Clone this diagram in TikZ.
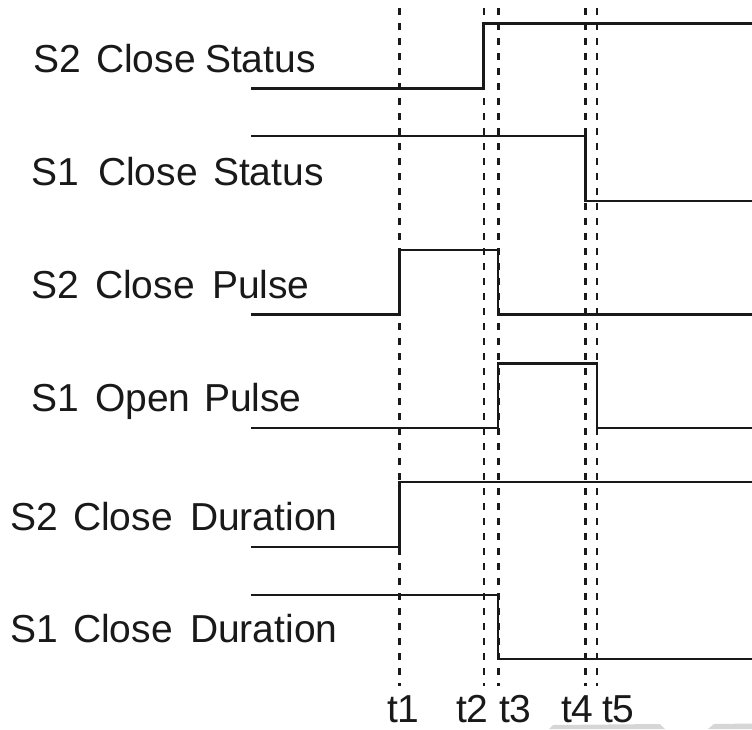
\documentclass[tikz,border=0pt]{standalone}
\usepackage{fontspec}
\setmainfont{Liberation Sans}
\begin{document}
\begin{tikzpicture}[x=1pt,y=-1pt,
  sig/.style={line width=2.6pt, draw=black!90, line join=miter, line cap=butt},
  tline/.style={line width=2.6pt, draw=black!90, dash pattern=on 7pt off 8pt},
  lbl/.style={anchor=base west, inner sep=0pt, outer sep=0pt, text=black!90, font=\fontsize{39}{45}\selectfont},
  artifact/.style={fill=black!16, draw=none}]
\useasboundingbox (0,0) rectangle (752,729);

% time coordinates
\coordinate (t1top) at (399.5,8);  \coordinate (t1bot) at (399.5,686);
\coordinate (t2top) at (484,8);    \coordinate (t2bot) at (484,686);
\coordinate (t3top) at (498.5,8);  \coordinate (t3bot) at (498.5,686);
\coordinate (t4top) at (585.5,8);  \coordinate (t4bot) at (585.5,686);
\coordinate (t5top) at (597,8);    \coordinate (t5bot) at (597,686);

% dashed time lines
\draw[tline] (t1top) -- (t1bot);
\draw[tline] (t2top) -- (t2bot);
\draw[tline] (t3top) -- (t3bot);
\draw[tline] (t4top) -- (t4bot);
\draw[tline] (t5top) -- (t5bot);

% waveforms
\draw[sig] (251,88.5) -- (483.5,88.5) -- (483.5,23.5) -- (752,23.5);
\draw[sig] (251,136) -- (585.5,136) -- (585.5,201) -- (752,201);
\draw[sig] (251,314.5) -- (399.5,314.5) -- (399.5,250) -- (498,250) -- (498,314.5) -- (752,314.5);
\draw[sig] (251,428) -- (498,428) -- (498,363.5) -- (597,363.5) -- (597,428) -- (752,428);
\draw[sig] (251,547) -- (399.5,547) -- (399.5,482) -- (752,482);
\draw[sig] (251,595) -- (498,595) -- (498,659) -- (752,659);

% labels
\node[lbl] (a1) at (33,72) {S2};  \node[lbl] (a2) at (96,72) {Close}; \node[lbl] (a3) at (205,72) {Status};
\node[lbl] (b1) at (31,185) {S1}; \node[lbl] (b2) at (98,185) {Close}; \node[lbl] (b3) at (213,185) {Status};
\node[lbl] (c1) at (31,298) {S2}; \node[lbl] (c2) at (95,298) {Close}; \node[lbl] (c3) at (212,298) {Pulse};
\node[lbl] (d1) at (31,411) {S1}; \node[lbl] (d2) at (95,411) {Open};  \node[lbl] (d3) at (204,411) {Pulse};
\node[lbl] (e1) at (10,530) {S2}; \node[lbl] (e2) at (73,530) {Close}; \node[lbl] (e3) at (190,530) {Duration};
\node[lbl] (f1) at (10,642) {S1}; \node[lbl] (f2) at (73,642) {Close}; \node[lbl] (f3) at (190,642) {Duration};

% time labels
\node[lbl] (l1) at (387,722) {t1};
\node[lbl] (l2) at (456,722) {t2};
\node[lbl] (l3) at (499,722) {t3};
\node[lbl] (l4) at (561,722) {t4};
\node[lbl] (l5) at (602,722) {t5};

% grey scan artifacts at bottom edge
\fill[artifact] (549,729) -- (553,725) -- (660,724) -- (665,729) -- cycle;
\fill[artifact] (708,729) -- (714,724) -- (752,723.5) -- (752,729) -- cycle;
\end{tikzpicture}
\end{document}
